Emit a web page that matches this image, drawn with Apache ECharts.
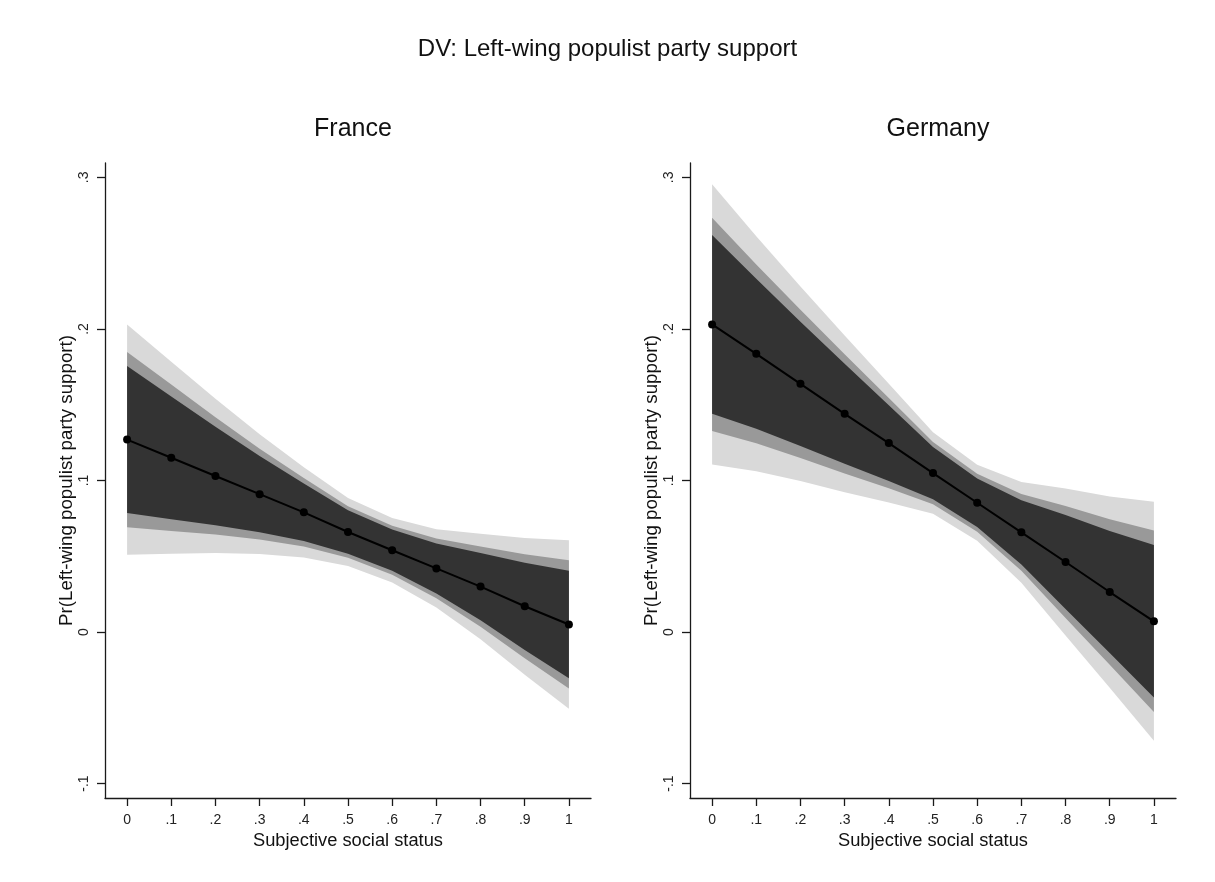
<!DOCTYPE html>
<html>
<head>
<meta charset="utf-8">
<title>DV: Left-wing populist party support</title>
<script src="https://cdn.jsdelivr.net/npm/echarts@6/dist/echarts.min.js"></script>
<style>
  html, body { margin: 0; padding: 0; background: #ffffff; }
  #chart { width: 1215px; height: 882px; }
</style>
</head>
<body>
<div id="chart"></div>
<script>
// Subjective social status values where predictions are evaluated
const statusLevels = [0, 0.1, 0.2, 0.3, 0.4, 0.5, 0.6, 0.7, 0.8, 0.9, 1];
const xTickLabels = ['0', '.1', '.2', '.3', '.4', '.5', '.6', '.7', '.8', '.9', '1'];
const yTickValues = [-0.1, 0, 0.1, 0.2, 0.3];
const yTickLabels = ['-.1', '0', '.1', '.2', '.3'];

// France: predicted probability and 90 / 95 / 99 % confidence limits
const franceFit  = [0.127, 0.115, 0.103, 0.091, 0.079, 0.066, 0.054, 0.042, 0.030, 0.017, 0.005];
const franceHi90 = [0.1755, 0.1555, 0.1355, 0.1162, 0.0980, 0.0803, 0.0676, 0.0585, 0.0522, 0.0458, 0.0405];
const franceLo90 = [0.0785, 0.0745, 0.0705, 0.0658, 0.0600, 0.0517, 0.0404, 0.0255, 0.0078, -0.0118, -0.0305];
const franceHi95 = [0.1848, 0.1633, 0.1417, 0.1210, 0.1016, 0.0830, 0.0702, 0.0617, 0.0565, 0.0513, 0.0473];
const franceLo95 = [0.0692, 0.0667, 0.0643, 0.0610, 0.0564, 0.0490, 0.0378, 0.0223, 0.0035, -0.0173, -0.0373];
const franceHi99 = [0.2030, 0.1784, 0.1539, 0.1305, 0.1088, 0.0884, 0.0753, 0.0678, 0.0648, 0.0621, 0.0606];
const franceLo99 = [0.0510, 0.0516, 0.0521, 0.0515, 0.0492, 0.0436, 0.0327, 0.0162, -0.0048, -0.0281, -0.0506];

// Germany: predicted probability and 90 / 95 / 99 % confidence limits
const germanyFit  = [0.203, 0.1836, 0.1638, 0.144, 0.1247, 0.1049, 0.0853, 0.0658, 0.0462, 0.0264, 0.0071];
const germanyHi90 = [0.2620, 0.2331, 0.2048, 0.1770, 0.1497, 0.1221, 0.1013, 0.0870, 0.0772, 0.0667, 0.0574];
const germanyLo90 = [0.1440, 0.1341, 0.1228, 0.1110, 0.0997, 0.0877, 0.0693, 0.0446, 0.0152, -0.0139, -0.0432];
const germanyHi95 = [0.2733, 0.2426, 0.2127, 0.1833, 0.1545, 0.1254, 0.1044, 0.0911, 0.0831, 0.0744, 0.0670];
const germanyLo95 = [0.1327, 0.1246, 0.1149, 0.1047, 0.0949, 0.0844, 0.0662, 0.0405, 0.0093, -0.0216, -0.0528];
const germanyHi99 = [0.2954, 0.2611, 0.2280, 0.1957, 0.1639, 0.1318, 0.1104, 0.0990, 0.0947, 0.0895, 0.0859];
const germanyLo99 = [0.1106, 0.1061, 0.0996, 0.0923, 0.0855, 0.0780, 0.0602, 0.0326, -0.0023, -0.0367, -0.0717];

const panels = [
  { name: 'France', left: 105, fit: franceFit,
    bands: [[franceLo99, franceHi99], [franceLo95, franceHi95], [franceLo90, franceHi90]] },
  { name: 'Germany', left: 690, fit: germanyFit,
    bands: [[germanyLo99, germanyHi99], [germanyLo95, germanyHi95], [germanyLo90, germanyHi90]] }
];

const bandColors = ['#d9d9d9', '#999999', '#333333'];
const FONT = 'Liberation Sans, Arial, sans-serif';
const AXIS_COLOR = '#1a1a1a';

function labelFor(values, labels, v) {
  let best = 0;
  for (let i = 1; i < values.length; i++) {
    if (Math.abs(values[i] - v) < Math.abs(values[best] - v)) best = i;
  }
  return labels[best];
}

const grids = [], xAxes = [], yAxes = [], series = [], titles = [];

titles.push({
  text: 'DV: Left-wing populist party support',
  left: 'center', top: 32,
  textStyle: { fontFamily: FONT, fontSize: 24, fontWeight: 'normal', color: '#111' }
});

panels.forEach((p, k) => {
  const width = 486;
  grids.push({ left: p.left, top: 163, width: width, height: 635 });
  titles.push({
    text: p.name,
    left: p.left + width / 2, top: 112, textAlign: 'center',
    textStyle: { fontFamily: FONT, fontSize: 25, fontWeight: 'normal', color: '#111' }
  });

  xAxes.push({
    type: 'value', gridIndex: k, min: -0.05, max: 1.05,
    name: 'Subjective social status', nameLocation: 'middle', nameGap: 28,
    nameTextStyle: { fontFamily: FONT, fontSize: 18.3, color: '#111' },
    axisLine: { show: true, onZero: false, lineStyle: { color: AXIS_COLOR, width: 1.3 } },
    axisTick: { show: true, length: 8, customValues: statusLevels,
      lineStyle: { color: AXIS_COLOR, width: 1.3 } },
    axisLabel: { customValues: statusLevels, margin: 15,
      fontFamily: FONT, fontSize: 14, color: '#222',
      formatter: v => labelFor(statusLevels, xTickLabels, v) },
    splitLine: { show: false }
  });

  yAxes.push({
    type: 'value', gridIndex: k, min: -0.1095, max: 0.3095,
    name: 'Pr(Left-wing populist party support)', nameLocation: 'middle', nameGap: 29,
    nameTextStyle: { fontFamily: FONT, fontSize: 18.7, color: '#111' },
    axisLine: { show: true, onZero: false, lineStyle: { color: AXIS_COLOR, width: 1.3 } },
    axisTick: { show: true, length: 8, customValues: yTickValues,
      lineStyle: { color: AXIS_COLOR, width: 1.3 } },
    axisLabel: { customValues: yTickValues, margin: 14, rotate: 90,
      fontFamily: FONT, fontSize: 14, color: '#222',
      formatter: v => labelFor(yTickValues, yTickLabels, v) },
    splitLine: { show: false }
  });

  // confidence bands, widest first
  p.bands.forEach((band, b) => {
    const lo = band[0], hi = band[1];
    series.push({
      type: 'custom', xAxisIndex: k, yAxisIndex: k, silent: true, z: 1 + b,
      data: [[0, 0]],
      encode: { x: 0, y: 1 },
      renderItem: function (params, api) {
        const pts = [];
        for (let i = 0; i < statusLevels.length; i++) pts.push(api.coord([statusLevels[i], hi[i]]));
        for (let i = statusLevels.length - 1; i >= 0; i--) pts.push(api.coord([statusLevels[i], lo[i]]));
        return { type: 'polygon', shape: { points: pts }, style: { fill: bandColors[b] } };
      }
    });
  });

  // predicted probability line with markers
  series.push({
    type: 'line', xAxisIndex: k, yAxisIndex: k, z: 10,
    data: statusLevels.map((x, i) => [x, p.fit[i]]),
    symbol: 'circle', symbolSize: 8, showSymbol: true,
    itemStyle: { color: '#000' },
    lineStyle: { color: '#000', width: 2 },
    animation: false, silent: true
  });
});

const chart = echarts.init(document.getElementById('chart'), null, { renderer: 'canvas' });
chart.setOption({
  backgroundColor: '#ffffff',
  animation: false,
  title: titles,
  grid: grids,
  xAxis: xAxes,
  yAxis: yAxes,
  series: series
});
</script>
</body>
</html>
